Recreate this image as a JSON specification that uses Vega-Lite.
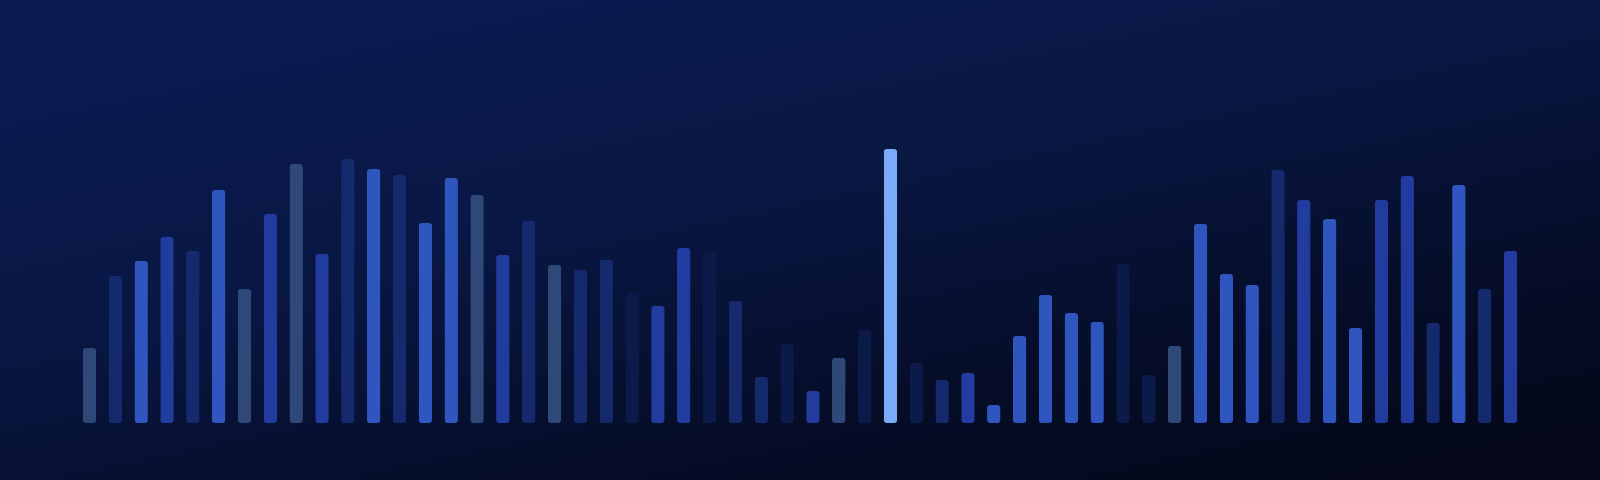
{
  "$schema": "https://vega.github.io/schema/vega-lite/v6.json",
  "width": 1600,
  "height": 480,
  "padding": 0,
  "autosize": {"type": "none"},
  "background": "#050a1c",
  "config": {
    "view": {"stroke": null},
    "axis": {"disable": true}
  },
  "view": {
    "fill": {
      "gradient": "linear",
      "x1": 0.15, "y1": 0, "x2": 0.85, "y2": 1,
      "stops": [
        {"offset": 0, "color": "#0b1b52"},
        {"offset": 0.4, "color": "#091744"},
        {"offset": 0.75, "color": "#050d28"},
        {"offset": 1, "color": "#04081a"}
      ]
    },
    "stroke": null
  },
  "data": {
    "values": [
      {"i": 1, "v": 75, "tone": "slate"},
      {"i": 2, "v": 147, "tone": "navy"},
      {"i": 3, "v": 162, "tone": "medium"},
      {"i": 4, "v": 186, "tone": "royal"},
      {"i": 5, "v": 172, "tone": "navy"},
      {"i": 6, "v": 233, "tone": "medium"},
      {"i": 7, "v": 134, "tone": "slate"},
      {"i": 8, "v": 209, "tone": "royal"},
      {"i": 9, "v": 259, "tone": "slate"},
      {"i": 10, "v": 169, "tone": "royal"},
      {"i": 11, "v": 264, "tone": "navy"},
      {"i": 12, "v": 254, "tone": "medium"},
      {"i": 13, "v": 248, "tone": "navy"},
      {"i": 14, "v": 200, "tone": "medium"},
      {"i": 15, "v": 245, "tone": "medium"},
      {"i": 16, "v": 228, "tone": "slate"},
      {"i": 17, "v": 168, "tone": "royal"},
      {"i": 18, "v": 202, "tone": "navy"},
      {"i": 19, "v": 158, "tone": "slate"},
      {"i": 20, "v": 153, "tone": "navy"},
      {"i": 21, "v": 163, "tone": "navy"},
      {"i": 22, "v": 130, "tone": "dark"},
      {"i": 23, "v": 117, "tone": "royal"},
      {"i": 24, "v": 175, "tone": "royal"},
      {"i": 25, "v": 171, "tone": "dark"},
      {"i": 26, "v": 122, "tone": "navy"},
      {"i": 27, "v": 46, "tone": "navy"},
      {"i": 28, "v": 79, "tone": "dark"},
      {"i": 29, "v": 32, "tone": "royal"},
      {"i": 30, "v": 65, "tone": "slate"},
      {"i": 31, "v": 93, "tone": "dark"},
      {"i": 32, "v": 274, "tone": "light"},
      {"i": 33, "v": 60, "tone": "dark"},
      {"i": 34, "v": 43, "tone": "navy"},
      {"i": 35, "v": 50, "tone": "royal"},
      {"i": 36, "v": 18, "tone": "medium"},
      {"i": 37, "v": 87, "tone": "medium"},
      {"i": 38, "v": 128, "tone": "medium"},
      {"i": 39, "v": 110, "tone": "medium"},
      {"i": 40, "v": 101, "tone": "medium"},
      {"i": 41, "v": 159, "tone": "dark"},
      {"i": 42, "v": 48, "tone": "dark"},
      {"i": 43, "v": 77, "tone": "slate"},
      {"i": 44, "v": 199, "tone": "medium"},
      {"i": 45, "v": 149, "tone": "medium"},
      {"i": 46, "v": 138, "tone": "medium"},
      {"i": 47, "v": 253, "tone": "navy"},
      {"i": 48, "v": 223, "tone": "royal"},
      {"i": 49, "v": 204, "tone": "medium"},
      {"i": 50, "v": 95, "tone": "medium"},
      {"i": 51, "v": 223, "tone": "royal"},
      {"i": 52, "v": 247, "tone": "royal"},
      {"i": 53, "v": 100, "tone": "navy"},
      {"i": 54, "v": 238, "tone": "medium"},
      {"i": 55, "v": 134, "tone": "navy"},
      {"i": 56, "v": 172, "tone": "royal"}
    ]
  },
  "mark": {"type": "bar", "cornerRadius": 3, "size": 13.5},
  "encoding": {
    "x": {
      "field": "i",
      "type": "quantitative",
      "scale": {"domain": [-2.2692, 59.2692], "nice": false, "zero": false},
      "axis": null
    },
    "y": {
      "field": "v",
      "type": "quantitative",
      "scale": {"domain": [-57, 423], "nice": false, "zero": false},
      "axis": null
    },
    "color": {
      "field": "tone",
      "type": "nominal",
      "scale": {
        "domain": ["slate", "navy", "medium", "royal", "dark", "light"],
        "range": ["#2f4878", "#142a6c", "#2f55bf", "#223b9f", "#0c1a4a", "#7aabf8"]
      },
      "legend": null
    }
  }
}
